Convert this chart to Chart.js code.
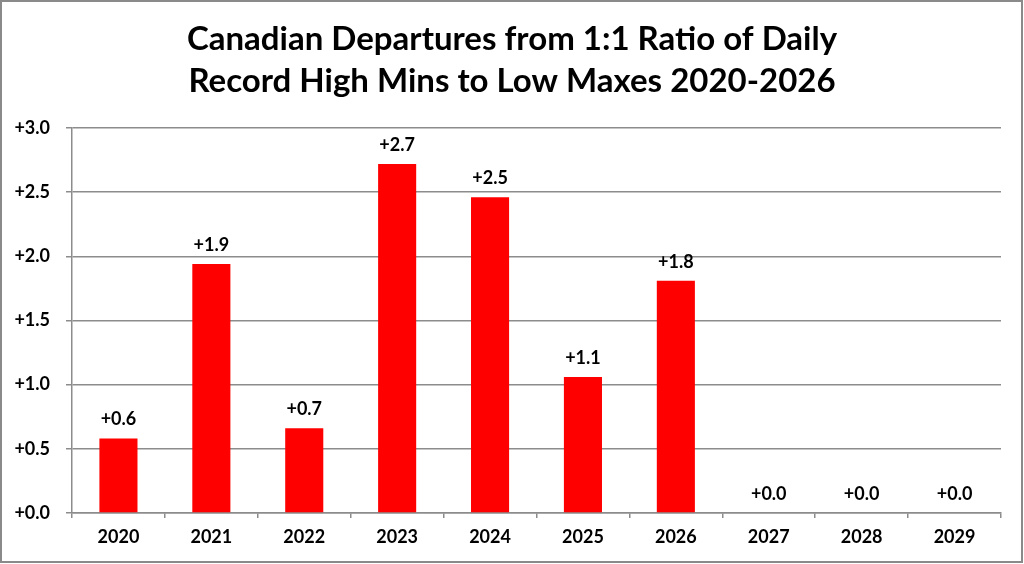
<!DOCTYPE html>
<html>
<head>
<meta charset="utf-8">
<script src="https://cdn.jsdelivr.net/npm/chart.js@4"></script>
<style>
  html, body { margin: 0; padding: 0; background: #fff; }
  canvas { display: block; }
</style>
</head>
<body>
<canvas id="myChart" width="1024" height="564"></canvas>
<script>
var titleLines = ['Canadian Departures from 1:1 Ratio of Daily', 'Record High Mins to Low Maxes 2020-2026'];
var years = ['2020', '2021', '2022', '2023', '2024', '2025', '2026', '2027', '2028', '2029'];
var departures = [0.58, 1.94, 0.66, 2.72, 2.46, 1.06, 1.81, 0, 0, 0];
var yMin = 0, yMax = 3, yStep = 0.5;

var gridGray = '#8c8c8c';
var fontFamily = 'Lato, "Open Sans", sans-serif';

function plus_fmt(v){
    return '+' + Number(v).toFixed(1);
}

// value labels above each bar
var barLabels = {
    id: 'barLabels',
    afterDatasetsDraw: function(chart){
        var ctx = chart.ctx;
        var meta = chart.getDatasetMeta(0);
        ctx.save();
        ctx.font = 'bold 18px ' + fontFamily;
        ctx.fillStyle = '#000';
        ctx.textAlign = 'center';
        ctx.textBaseline = 'middle';
        meta.data.forEach(function(bar, i){
            ctx.fillText(plus_fmt(departures[i]), bar.x, bar.y - 19);
        });
        ctx.restore();
    }
};

// title centred on the whole box (not the plot), plus the outer frame
var frame = {
    id: 'frame',
    afterDraw: function(chart){
        var ctx = chart.ctx;
        ctx.save();
        ctx.fillStyle = '#000';
        ctx.font = 'bold 33px ' + fontFamily;
        ctx.textAlign = 'center';
        ctx.textBaseline = 'middle';
        titleLines.forEach(function(line, i){
            ctx.fillText(line, chart.width / 2, 39 + i * 42);
        });
        ctx.strokeStyle = '#8a8a8a';
        ctx.lineWidth = 2;
        ctx.strokeRect(1, 1, chart.width - 3, chart.height - 3);
        ctx.restore();
    }
};

var myMainChart;
function Drawgraphonfront(){
    var ctx = document.getElementById('myChart').getContext('2d');
    myMainChart = new Chart(ctx, {
        type: 'bar',
        data: {
            labels: years,
            datasets: [{
                data: departures,
                backgroundColor: '#ff0000',
                borderWidth: 0,
                barPercentage: 0.41,
                categoryPercentage: 1.0
            }]
        },
        options: {
            responsive: false,
            animation: false,
            devicePixelRatio: 1,
            layout: { padding: { top: 128, left: 0, right: 23, bottom: 0 } },
            plugins: {
                legend: { display: false },
                tooltip: { enabled: false },
                title: { display: false }
            },
            scales: {
                x: {
                    offset: true,
                    grid: {
                        offset: true,
                        drawOnChartArea: false,
                        drawTicks: true,
                        tickLength: 5,
                        color: gridGray,
                        lineWidth: 1.5
                    },
                    border: { display: true, color: gridGray, width: 1.5 },
                    ticks: {
                        color: '#000',
                        font: { family: fontFamily, size: 18, weight: 'bold' },
                        padding: 8,
                        maxRotation: 0
                    },
                    afterFit: function(scale){ scale.height = 51; }
                },
                y: {
                    min: yMin,
                    max: yMax,
                    grid: {
                        color: gridGray,
                        lineWidth: 1.5,
                        drawTicks: true,
                        tickLength: 6
                    },
                    border: { display: true, color: gridGray, width: 1.5 },
                    ticks: {
                        stepSize: yStep,
                        color: '#000',
                        padding: 16,
                        font: { family: fontFamily, size: 18, weight: 'bold' },
                        callback: function(v){ return plus_fmt(v); }
                    },
                    afterFit: function(scale){ scale.width = 72; }
                }
            }
        },
        plugins: [barLabels, frame]
    });
}

Drawgraphonfront();
</script>
</body>
</html>
